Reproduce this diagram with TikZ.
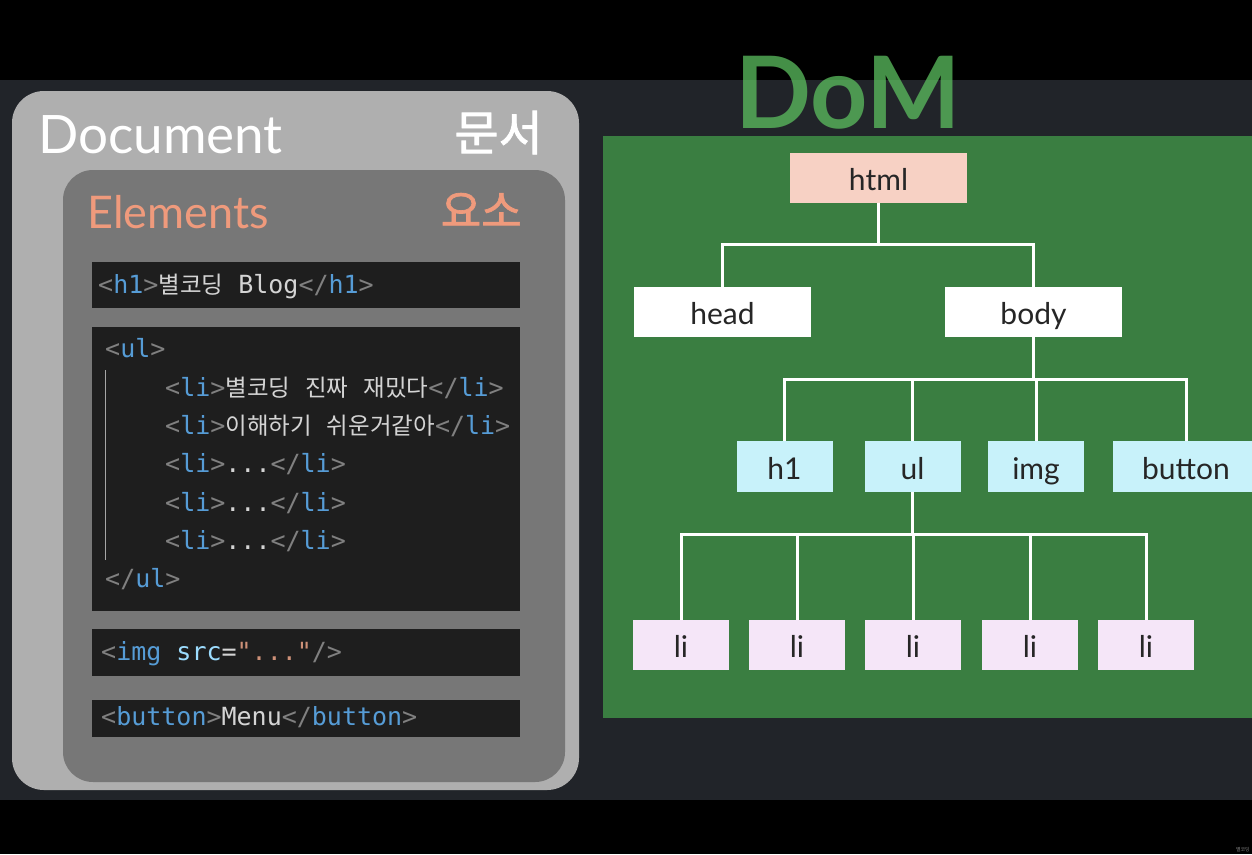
\documentclass[tikz,border=0pt]{standalone}
\usepackage{fontspec}
\usepackage{tikz}
\setmainfont{Lato}
\setmonofont{DejaVu Sans Mono}
\newfontfamily\krfont{Noto Sans CJK KR}
\newfontfamily\krtitle[FakeBold=1.6]{Noto Sans CJK KR}

\definecolor{bandgray}{HTML}{212429}
\definecolor{outergray}{HTML}{AFAFAF}
\definecolor{innergray}{HTML}{777777}
\definecolor{codebg}{HTML}{1E1E1E}
\definecolor{cgray}{HTML}{808080}
\definecolor{cblue}{HTML}{569CD6}
\definecolor{clblue}{HTML}{9CDCFE}
\definecolor{corange}{HTML}{CE9178}
\definecolor{ctext}{HTML}{D4D4D4}
\definecolor{salmon}{HTML}{EF9A7C}
\definecolor{domgreen}{HTML}{3A7E41}
\definecolor{brushgreen}{HTML}{5CBF5F}
\definecolor{htmlpink}{HTML}{F7D1C4}
\definecolor{tagcyan}{HTML}{C8F2FA}
\definecolor{lilac}{HTML}{F5E6F8}

\newcommand{\otag}[1]{\textcolor{cgray}{<}\textcolor{cblue}{#1}\textcolor{cgray}{>}}
\newcommand{\ctag}[1]{\textcolor{cgray}{</}\textcolor{cblue}{#1}\textcolor{cgray}{>}}
\newcommand{\hangul}[1]{{\krfont\fontsize{23.5}{28}\selectfont #1}}

\tikzset{
	tree/.style={draw=white,line width=3pt},
	domnode/.style={rectangle,inner sep=0pt,text=black!85,text height=28pt,text depth=3pt,
		font=\fontsize{30}{36}\selectfont},
	topnode/.style={domnode,minimum width=177pt,minimum height=50pt},
	tagnode/.style={domnode,fill=tagcyan,minimum width=96pt,minimum height=51pt},
	linode/.style={domnode,fill=lilac,minimum width=96pt,minimum height=50pt},
	code/.style={anchor=base west,inner sep=0pt,text=ctext,font=\ttfamily\fontsize{25}{30}\selectfont},
	guide/.style={draw=cgray!70,line width=1pt}
}

\begin{document}
\begin{tikzpicture}[x=1pt,y=-1pt]
		\useasboundingbox (0,0) rectangle (1252,854);
		\clip (0,0) rectangle (1252,854);
%		\draw[help lines,step=50] (0,0) grid (1252,854);
		\fill[black] (0,0) rectangle (1252,854);
		\fill[bandgray] (0,80) rectangle (1252,800);

		% left: document / elements
		\fill[outergray,rounded corners=32pt] (12,91) rectangle (579,790);
		\fill[innergray,rounded corners=30pt] (63,170) rectangle (565,782);
		\path (38,153) node(document) [anchor=base west,inner sep=0pt,text=white] {\fontsize{53}{60}\selectfont Document};
		\path (543,132.5) node(munseo) [anchor=east,inner sep=0pt,text=white] {\krtitle\fontsize{48}{54}\selectfont 문서};
		\path (87,228) node(elements) [anchor=base west,inner sep=0pt,text=salmon] {\fontsize{45}{52}\selectfont Elements};
		\path (522,210) node(yoso) [anchor=east,inner sep=0pt,text=salmon] {\krtitle\fontsize{44}{50}\selectfont 요소};

		\fill[codebg] (92,262) rectangle (520,308);
		\fill[codebg] (92,327) rectangle (520,611);
		\fill[codebg] (92,629) rectangle (520,676);
		\fill[codebg] (92,700) rectangle (520,737);
		\draw[guide] (105,370) -- (105,560);

		\path (98,293.5) node(codeh1) [code] {\otag{h1}\hangul{별코딩} Blog\ctag{h1}};
		\path (105,357.5) node(codeul) [code] {\otag{ul}};
		\path (165,396.5) node(codeli1) [code] {\otag{li}\hangul{별코딩} \hangul{진짜} \hangul{재밌다}\ctag{li}};
		\path (165,434.5) node(codeli2) [code] {\otag{li}\hangul{이해하기} \hangul{쉬운거같아}\ctag{li}};
		\path (165,472.5) node(codeli3) [code] {\otag{li}...\ctag{li}};
		\path (165,511.5) node(codeli4) [code] {\otag{li}...\ctag{li}};
		\path (165,549.5) node(codeli5) [code] {\otag{li}...\ctag{li}};
		\path (105,587.5) node(codeulend) [code] {\ctag{ul}};
		\path (101,660.5) node(codeimg) [code] {\textcolor{cgray}{<}\textcolor{cblue}{img} \textcolor{clblue}{src}=\textcolor{corange}{"..."}\textcolor{cgray}{/>}};
		\path (101,725.5) node(codebutton) [code] {\otag{button}Menu\ctag{button}};

		% right: the DOM tree
		\fill[domgreen] (603,136) rectangle (1252,718);
		\path (735,128) node(dom) [anchor=base west,inner sep=0pt,text=brushgreen,text opacity=0.75] {\fontsize{100}{110}\selectfont\bfseries DoM};

		\path (878.5,177.5) node(html) [topnode,fill=htmlpink] {html};
		\path (722.5,312) node(head) [topnode,fill=white] {head};
		\path (1033.5,312) node(body) [topnode,fill=white] {body};
		\path (784.5,466.5) node(h1) [tagnode] {h1};
		\path (912.5,466.5) node(ul) [tagnode] {ul};
		\path (1036,466.5) node(img) [tagnode] {img};
		\path (1186,466.5) node(button) [tagnode,minimum width=146pt] {button};
		\path (681,645) node(li1) [linode] {li};
		\path (797,645) node(li2) [linode] {li};
		\path (913,645) node(li3) [linode] {li};
		\path (1030,645) node(li4) [linode] {li};
		\path (1146,645) node(li5) [linode] {li};

		\foreach \c in {head,body}
			\draw[tree] (html.south) -- ++(0,42) -| (\c.north);
		\foreach \c in {h1,ul,img,button}
			\draw[tree] (body.south) -- ++(0,42) -| (\c.north);
		\foreach \c in {li1,li2,li3,li4,li5}
			\draw[tree] (ul.south) -- ++(0,42) -| (\c.north);

		\path (1250,852) node(mark) [anchor=south east,inner sep=0pt,text=gray] {\krfont\fontsize{5}{6}\selectfont 별코딩};
	\end{tikzpicture}
\end{document}
